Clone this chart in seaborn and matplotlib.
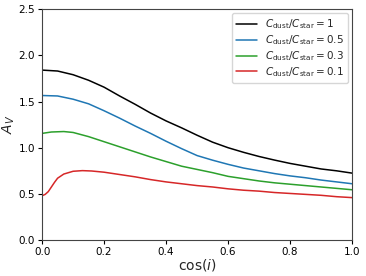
import matplotlib
matplotlib.use("Agg")
import matplotlib.pyplot as plt
import seaborn as sns

# ── Data ──────────────────────────────────────────────────────────────────────
cos_i = [0.0, 0.05, 0.1, 0.15, 0.2, 0.25, 0.3, 0.35, 0.4, 0.45, 0.5,
         0.55, 0.6, 0.65, 0.7, 0.75, 0.8, 0.85, 0.9, 0.95, 1.0]

av_1 = [1.84, 1.83, 1.79, 1.73, 1.655, 1.56, 1.47, 1.375, 1.29, 1.215, 1.135,
        1.06, 1.00, 0.95, 0.905, 0.866, 0.83, 0.80, 0.77, 0.75, 0.725]
av_05 = [1.565, 1.56, 1.525, 1.475, 1.40, 1.32, 1.235, 1.155, 1.07, 0.99, 0.915,
         0.865, 0.82, 0.78, 0.75, 0.72, 0.695, 0.675, 0.65, 0.63, 0.61]

cos_i_green = [0.0, 0.03, 0.07, 0.1, 0.15, 0.2, 0.25, 0.3, 0.35, 0.4, 0.45, 0.5,
               0.55, 0.6, 0.65, 0.7, 0.75, 0.8, 0.85, 0.9, 0.95, 1.0]
av_03 = [1.155, 1.17, 1.175, 1.165, 1.12, 1.065, 1.01, 0.955, 0.90, 0.85, 0.80, 0.765,
         0.73, 0.69, 0.665, 0.64, 0.62, 0.605, 0.59, 0.575, 0.56, 0.545]

cos_i_red = [0.0, 0.01, 0.02, 0.03, 0.04, 0.05, 0.07, 0.1, 0.13, 0.16, 0.2, 0.25,
             0.3, 0.35, 0.4, 0.45, 0.5, 0.55, 0.6, 0.65, 0.7, 0.75, 0.8, 0.85,
             0.9, 0.95, 1.0]
av_01 = [0.48, 0.495, 0.525, 0.575, 0.625, 0.67, 0.715, 0.745, 0.752, 0.748, 0.735, 0.71,
         0.685, 0.655, 0.63, 0.61, 0.59, 0.575, 0.555, 0.54, 0.53, 0.515, 0.505, 0.495,
         0.485, 0.47, 0.46]

series = [
    (cos_i, av_1, "black", r"$C_{\rm dust}/C_{\rm star} = 1$"),
    (cos_i, av_05, "tab:blue", r"$C_{\rm dust}/C_{\rm star} = 0.5$"),
    (cos_i_green, av_03, "tab:green", r"$C_{\rm dust}/C_{\rm star} = 0.3$"),
    (cos_i_red, av_01, "tab:red", r"$C_{\rm dust}/C_{\rm star} = 0.1$"),
]

# ── Plot ──────────────────────────────────────────────────────────────────────
sns.set_style("ticks")
plt.rcParams["font.family"] = ["DejaVu Sans"]

fig = plt.figure(figsize=(3.66, 2.76), dpi=100)
ax = fig.add_axes([0.115, 0.130, 0.847, 0.837])

for x, y, c, lab in series:
    sns.lineplot(x=x, y=y, color=c, label=lab, linewidth=1.1, ax=ax)

ax.set_xlim(0, 1)
ax.set_ylim(0, 2.5)
ax.set_xticks([0, 0.2, 0.4, 0.6, 0.8, 1.0])
ax.set_yticks([0, 0.5, 1.0, 1.5, 2.0, 2.5])
ax.tick_params(labelsize=7.5, length=3, width=0.8, pad=2, colors="black")
for s in ax.spines.values():
    s.set_color("#444444")
    s.set_linewidth(0.8)
    s.set_visible(True)

ax.set_xlabel(r"$\cos(i)$", fontsize=10, labelpad=0)
ax.set_ylabel(r"$A_V$", fontsize=10, labelpad=1)

ax.legend(loc="upper right", fontsize=7.5, frameon=True, handlelength=2.0,
          borderaxespad=0.4, labelspacing=0.2)

fig.savefig("out.png", dpi=100)
